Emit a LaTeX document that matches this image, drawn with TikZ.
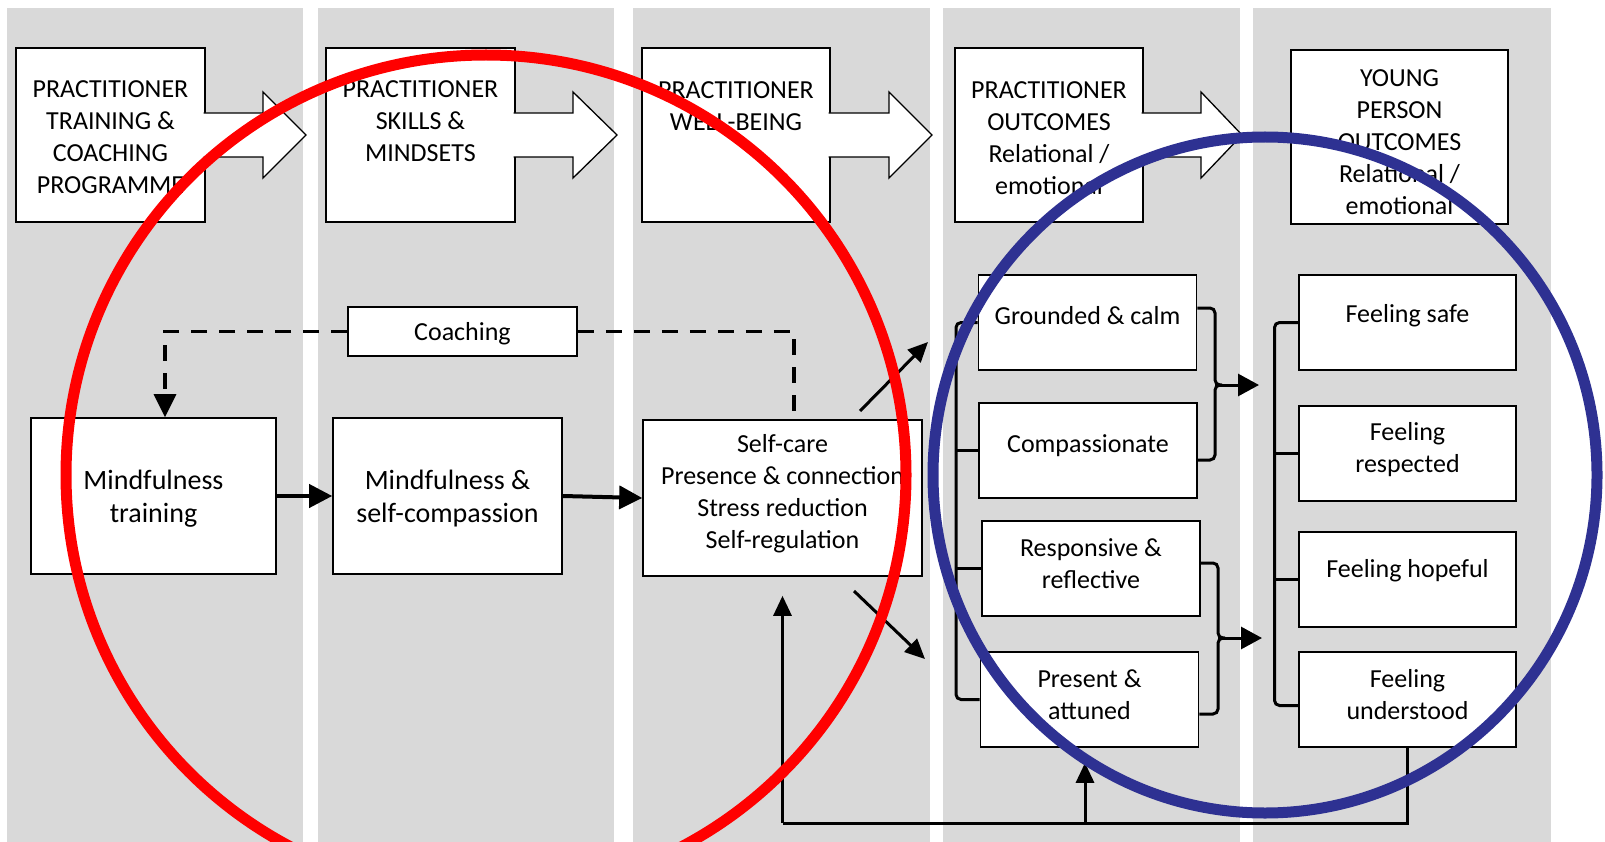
\documentclass[tikz,border=0pt]{standalone}
\usepackage{fontspec}
\setmainfont{Carlito}
\usetikzlibrary{arrows.meta,calc}
\definecolor{colgray}{HTML}{D9D9D9}
\definecolor{circblue}{RGB}{46,49,146}
\definecolor{circred}{RGB}{255,0,0}
\newcommand\hdrarrow[3]{%
  \filldraw[hdr] (#1-1.5,113) -- (#2,113) -- (#2,92) -- (#3,135) -- (#2,178) -- (#2,157) -- (#1-1.5,157);}
\begin{document}
\begin{tikzpicture}[x=1pt,y=-1pt,
  box/.style={draw=black,line width=1.6pt,fill=white,inner sep=0pt},
  hdr/.style={draw=black,line width=1.3pt,fill=white},
  hbox/.style={hdr,inner sep=0pt,minimum width=#1,minimum height=174pt},
  txt/.style={align=center,inner sep=0pt,yshift=-2.5pt,font=\fontsize{26}{32}\selectfont},
  bigtxt/.style={align=center,inner sep=0pt,yshift=-2.5pt,font=\fontsize{28}{33.5}\selectfont},
  rbox/.style={box,minimum width=218pt,minimum height=95pt},
  brk/.style={line width=3pt,rounded corners=5pt},
  flowarrow/.style={line width=4pt,-{Triangle[length=23pt,width=23pt]}},
  brarrow/.style={line width=3pt,-{Triangle[length=21pt,width=22pt]}},
  diagarrow/.style={line width=3pt,-{Triangle[length=20pt,width=18pt]}},
  fbline/.style={line width=3pt},
  fbarrow/.style={line width=3pt,-{Triangle[length=20pt,width=18pt]}},
  coachline/.style={line width=3.5pt,dash pattern=on 16pt off 12pt},
  coacharrow/.style={coachline,-{Triangle[length=23pt,width=22pt]}},
]
\clip (0,0) rectangle (1605,842);
\fill[white] (0,0) rectangle (1605,842);
% columns
\fill[colgray] (7,8) rectangle (303,842);
\fill[colgray] (318,8) rectangle (614,842);
\fill[colgray] (633,8) rectangle (930,842);
\fill[colgray] (943,8) rectangle (1240,842);
\fill[colgray] (1253,8) rectangle (1551,842);

% header boxes
\node[hbox=189pt] (h1) at (110.5,135) {};
\hdrarrow{205}{263}{306}
\node[txt] (h1t) at (110.5,135) {PRACTITIONER\\TRAINING \&\\COACHING\\PROGRAMME};
\node[hbox=189pt] (h2) at (420.5,135) {};
\hdrarrow{515}{573}{617}
\node[txt] (h2t) at (420.5,119) {PRACTITIONER\\SKILLS \&\\MINDSETS};
\node[hbox=188pt] (h3) at (736,135) {};
\hdrarrow{830}{889}{932}
\node[txt] (h3t) at (736,104) {PRACTITIONER\\WELL-BEING};
\node[hbox=188pt] (h4) at (1049,135) {};
\hdrarrow{1143}{1201}{1242}
\node[txt] (h4t) at (1049,135.5) {PRACTITIONER\\OUTCOMES\\Relational /\\emotional};
\node[hbox=217pt] (h5) at (1399.5,137) {};
\node[txt] (h5t) at (1399.5,140) {YOUNG\\PERSON\\OUTCOMES\\Relational /\\emotional};

% middle row
\node[box,minimum width=229pt,minimum height=49pt] (coach) at (462.5,331.5) {};
\node[txt] (coacht) at (coach.center) {Coaching};
\node[box,minimum width=245pt,minimum height=156pt] (mt) at (153.5,496) {};
\node[bigtxt] (mtt) at (mt.center) {Mindfulness\\training};
\node[box,minimum width=229pt,minimum height=156pt] (msc) at (447.5,496) {};
\node[bigtxt] (msct) at (msc.center) {Mindfulness \&\\self-compassion};
\node[box,minimum width=279pt,minimum height=156pt] (sc) at (782.5,498) {};
\node[txt] (sct) at ([yshift=7pt]sc.center) {Self-care\\Presence \& connection\\Stress reduction\\Self-regulation};

\draw[coacharrow] (coach.west) -| ([xshift=11.5pt]mt.north);
\draw[coachline] (coach.east) -| ([xshift=11.5pt]sc.north);
\draw[flowarrow] (mt.east) -- (msc.west);
\draw[flowarrow] (msc.east) -- (sc.west);

% practitioner outcomes
\node[rbox] (g) at (1087.5,322.5) {};
\node[txt] (gt) at ([yshift=9.5pt]g.center) {Grounded \& calm};
\node[rbox] (c) at (1088,450.5) {};
\node[txt] (ct) at ([yshift=7.5pt]c.center) {Compassionate};
\node[rbox] (r) at (1091,568.5) {};
\node[txt] (rt) at ([yshift=7.5pt]r.center) {Responsive \&\\reflective};
\node[rbox] (pa) at (1089.5,699.5) {};
\node[txt] (pat) at ([yshift=7.5pt]pa.center) {Present \&\\attuned};

% young person outcomes
\node[rbox,minimum width=217pt] (fs) at (1407.5,322.5) {};
\node[txt] (fst) at ([yshift=9.5pt]fs.center) {Feeling safe};
\node[rbox,minimum width=217pt] (fr) at (1407.5,453.5) {};
\node[txt] (frt) at ([yshift=6.5pt]fr.center) {Feeling\\respected};
\node[rbox,minimum width=217pt] (fh) at (1407.5,579.5) {};
\node[txt] (fht) at ([yshift=11.5pt]fh.center) {Feeling hopeful};
\node[rbox,minimum width=217pt] (fu) at (1407.5,699.5) {};
\node[txt] (fut) at ([yshift=7pt]fu.center) {Feeling\\understood};

% diagonal arrows
\coordinate (d1a) at (860,411);
\coordinate (d1b) at (928,342);
\coordinate (d2a) at (854,591);
\coordinate (d2b) at (925,659);
\draw[diagarrow] (d1a) -- (d1b);
\draw[diagarrow] (d2a) -- (d2b);

% brackets
\coordinate (lb) at (956,0);
\coordinate (rb) at (1274.5,0);
\draw[brk] (g.west) -| (lb |- pa.west) -- (pa.west);
\draw[brk] (c.west) -- (c.west -| lb);
\draw[brk] (r.west) -- (r.west -| lb);
\coordinate (fuw) at ([yshift=-6pt]fu.west);
\draw[brk] (fs.west) -| (rb |- fuw) -- (fuw);
\draw[brk] (fr.west) -- (fr.west -| rb);
\draw[brk] (fh.west) -- (fh.west -| rb);

% braces
\coordinate (k1) at (1215,385);
\coordinate (a1) at (1259,385);
\coordinate (k2) at (1218,638);
\coordinate (a2) at (1262,638);
\draw[brk] ([yshift=14.5pt]g.east) -| (k1) -- ++(7,0);
\draw[brk] ([yshift=-9.5pt]c.east) -| (k1) -- ++(7,0);
\draw[brarrow] (k1) -- (a1);
\draw[brk] ([yshift=5.5pt]r.east) -| (k2) -- ++(7,0);
\draw[brk] ([yshift=-14.5pt]pa.east) -| (k2) -- ++(7,0);
\draw[brarrow] (k2) -- (a2);

% feedback loop
\coordinate (bl) at (782.5,823);
\coordinate (bj) at (1085,823);
\draw[fbline] (fu.south) |- (bl);
\draw[fbarrow] (bl) -- ([yshift=-19pt]sc.south);
\draw[fbarrow] (bj) -- ([xshift=-4.5pt,yshift=-15pt]pa.south);

% circles
\draw[circred,line width=11pt] (486,475) circle [radius=420];
\draw[circblue,line width=11pt] (1265,475) ellipse [x radius=332,y radius=338];
\end{tikzpicture}
\end{document}
